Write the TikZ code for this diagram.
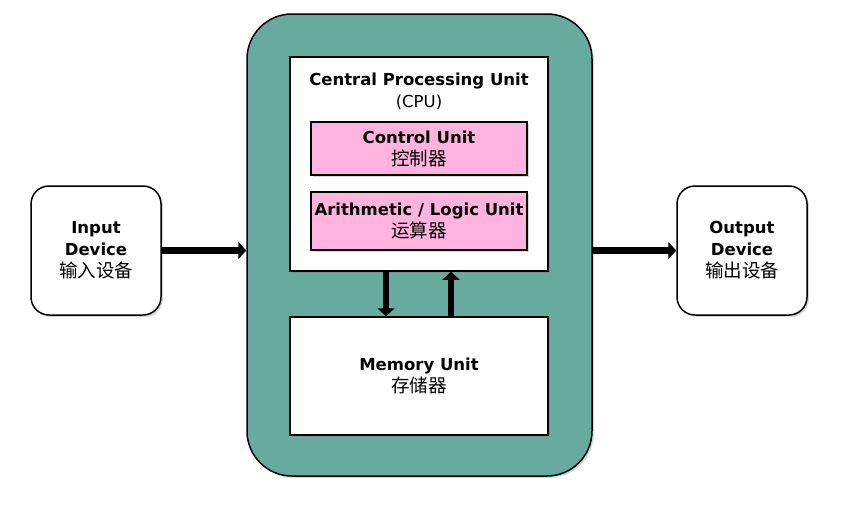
\documentclass[tikz,border=0pt]{standalone}
\usepackage{fontspec}
\setmainfont{DejaVu Sans}
\newfontfamily\cjk{Noto Sans CJK SC}
\usetikzlibrary{positioning,shadows,arrows.meta}

\definecolor{shellgreen}{HTML}{67AB9F}
\definecolor{unitpink}{HTML}{FFB3DE}
\newcommand{\zh}[1]{{\cjk\fontsize{18.5}{22}\selectfont #1}}

\begin{document}
\begin{tikzpicture}[x=1pt,y=-1pt,
  font=\fontsize{16.5}{22}\selectfont,
  box/.style={draw,line width=1.5pt,fill=white,align=center,
    drop shadow={shadow xshift=2pt,shadow yshift=-2pt,opacity=0.3}},
  unit/.style={box,fill=unitpink,minimum width=216pt},
  dev/.style={box,rounded corners=18pt,minimum width=130pt,minimum height=129pt},
  flow/.style={line width=6.5pt,-{Triangle[length=8pt,width=17pt]}}]
  \fill[white] (0,0) rectangle (854,506);
  \useasboundingbox (0,0) rectangle (854,506);
  % computer shell
  \node[draw,line width=1.5pt,fill=shellgreen,rounded corners=45pt,
    minimum width=345pt,minimum height=462pt,
    drop shadow={shadow xshift=2pt,shadow yshift=-2pt,opacity=0.3}] (comp) at (419.5,245) {};
  % cpu
  \node[box,minimum width=258pt,minimum height=214pt] (cpu) at (419,164) {};
  \node[align=center] (cputitle) at (419,91) {\textbf{Central Processing Unit}\\(CPU)};
  \node[unit,minimum height=53pt] (ctrl) at (419,148.5)
    {\textbf{Control Unit}\\\zh{控制器}};
  \node[unit,minimum height=58pt] (alu) at (419,221)
    {\textbf{Arithmetic / Logic Unit}\\\zh{运算器}};
  % memory
  \node[box,minimum width=258pt,minimum height=118pt] (mem) at (419,376)
    {\textbf{Memory Unit}\\\zh{存储器}};
  % devices
  \node[dev] (inp) at (96,250.5)
    {\textbf{Input}\\\textbf{Device}\\\zh{输入设备}};
  \node[dev] (outp) at (742,250.5)
    {\textbf{Output}\\\textbf{Device}\\\zh{输出设备}};
  % data flow
  \draw[flow] (inp.east) -- (inp.east -| comp.west);
  \draw[flow] (outp.west -| comp.east) -- (outp.west);
  \draw[flow] ([xshift=-33pt]cpu.south) -- ([xshift=-33pt]mem.north);
  \draw[flow] ([xshift=32pt]mem.north) -- ([xshift=32pt]cpu.south);
\end{tikzpicture}
\end{document}
